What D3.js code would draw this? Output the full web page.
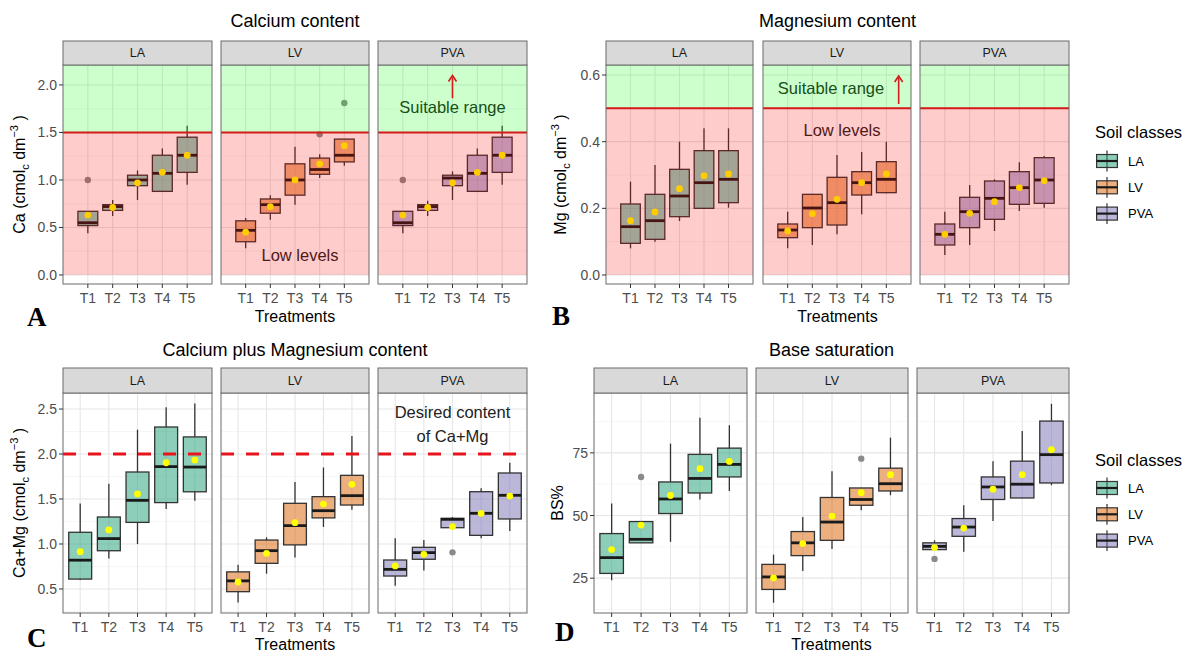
<!DOCTYPE html>
<html>
<head>
<meta charset="utf-8">
<script src="https://cdn.jsdelivr.net/npm/d3@7"></script>
<style>
  body { margin: 0; background: #fff; }
  svg { display: block; font-family: "Liberation Sans", Arial, sans-serif; }
</style>
</head>
<body>
<svg id="chart" width="1189" height="653"></svg>
<script>
const treatments = ["T1", "T2", "T3", "T4", "T5"]
const soils = ["LA", "LV", "PVA"]
const soilColors = ["#1B9E77", "#D95F02", "#7570B3"]

// every row: [lower whisker, Q1, median, Q3, upper whisker, mean], one row per treatment
const caLA = [[0.44, 0.52, 0.55, 0.67, 0.67, 0.63], [0.62, 0.68, 0.72, 0.74, 0.79, 0.71], [0.79, 0.94, 1.00, 1.05, 1.10, 0.97], [0.88, 0.88, 1.07, 1.26, 1.33, 1.08], [0.95, 1.08, 1.26, 1.45, 1.57, 1.26]]
const caLV = [[0.28, 0.35, 0.47, 0.57, 0.60, 0.45], [0.58, 0.65, 0.74, 0.80, 0.84, 0.72], [0.74, 0.84, 1.00, 1.17, 1.35, 1.00], [1.02, 1.06, 1.11, 1.23, 1.27, 1.17], [1.15, 1.19, 1.26, 1.43, 1.43, 1.36]]
const caPVA = [[0.44, 0.52, 0.55, 0.67, 0.67, 0.63], [0.62, 0.68, 0.72, 0.74, 0.78, 0.71], [0.79, 0.94, 1.02, 1.05, 1.09, 0.97], [0.88, 0.88, 1.07, 1.26, 1.33, 1.08], [0.95, 1.08, 1.26, 1.45, 1.57, 1.26]]
const caOutliers = [["LA", "T1", 1.0], ["LV", "T4", 1.48], ["LV", "T5", 1.81], ["PVA", "T1", 1.0]]

const mgLA = [[0.08, 0.095, 0.145, 0.213, 0.28, 0.163], [0.10, 0.107, 0.163, 0.242, 0.33, 0.189], [0.162, 0.175, 0.237, 0.317, 0.40, 0.259], [0.20, 0.20, 0.277, 0.373, 0.44, 0.298], [0.202, 0.217, 0.287, 0.373, 0.44, 0.303]]
const mgLV = [[0.08, 0.112, 0.135, 0.153, 0.19, 0.132], [0.09, 0.142, 0.201, 0.242, 0.242, 0.184], [0.122, 0.15, 0.217, 0.293, 0.36, 0.227], [0.182, 0.24, 0.277, 0.31, 0.369, 0.277], [0.245, 0.247, 0.287, 0.34, 0.40, 0.303]]
const mgPVA = [[0.06, 0.09, 0.122, 0.153, 0.19, 0.122], [0.09, 0.142, 0.19, 0.233, 0.27, 0.185], [0.132, 0.167, 0.23, 0.282, 0.287, 0.22], [0.192, 0.212, 0.262, 0.31, 0.338, 0.262], [0.202, 0.215, 0.285, 0.352, 0.357, 0.283]]
const mgOutliers = []

const camgLA = [[0.60, 0.61, 0.82, 1.13, 1.45, 0.915], [0.84, 0.925, 1.06, 1.30, 1.67, 1.156], [1.00, 1.24, 1.485, 1.80, 2.27, 1.556], [1.39, 1.46, 1.86, 2.30, 2.52, 1.903], [1.48, 1.58, 1.855, 2.19, 2.56, 1.933]]
const camgLV = [[0.35, 0.47, 0.59, 0.69, 0.77, 0.578], [0.67, 0.785, 0.926, 1.044, 1.074, 0.896], [0.85, 0.99, 1.204, 1.452, 1.69, 1.237], [1.19, 1.29, 1.37, 1.526, 1.85, 1.444], [1.38, 1.433, 1.537, 1.763, 2.20, 1.663]]
const camgPVA = [[0.537, 0.644, 0.718, 0.822, 1.063, 0.756], [0.704, 0.83, 0.904, 0.963, 1.044, 0.885], [1.181, 1.181, 1.274, 1.285, 1.30, 1.193], [1.063, 1.096, 1.341, 1.581, 1.619, 1.341], [1.144, 1.278, 1.541, 1.789, 1.903, 1.533]]
const camgOutliers = [["PVA", "T3", 0.907]]

const bsLA = [[24.2, 26.9, 33.2, 42.8, 54.8, 36.4], [39.1, 39.1, 40.5, 47.6, 47.6, 46.2], [39.5, 50.8, 56.6, 63.4, 78.7, 58.0], [56.4, 59.0, 64.8, 74.4, 89.0, 68.7], [59.8, 65.4, 70.4, 76.9, 86.0, 71.6]]
const bsLV = [[15.2, 20.5, 25.5, 30.5, 34.4, 25.1], [27.9, 34.0, 39.1, 43.6, 49.4, 38.8], [36.6, 40.1, 47.4, 57.2, 67.7, 49.8], [52.1, 54.1, 56.4, 61.0, 61.0, 59.1], [58.1, 59.8, 62.7, 68.9, 81.1, 66.3]]
const bsPVA = [[36.4, 36.4, 37.7, 39.1, 40.1, 37.2], [35.5, 41.7, 45.4, 48.8, 54.1, 45.0], [47.8, 56.4, 61.4, 65.4, 71.7, 60.5], [57.0, 57.0, 62.5, 71.7, 83.7, 66.3], [62.1, 63.0, 74.3, 87.7, 94.6, 76.3]]
const bsOutliers = [["LA", "T2", 65.4], ["LV", "T4", 72.7], ["PVA", "T1", 32.7]]

const caTicks = [0, 0.5, 1, 1.5, 2]
const mgTicks = [0, 0.2, 0.4, 0.6]
const camgTicks = [0.5, 1, 1.5, 2, 2.5]
const bsTicks = [25, 50, 75]

const svg = d3.select("#chart")

// draws one row of 3 facets, returns the scales so annotations can use them
function drawPanel(p){
    const y = d3.scaleLinear().domain(p.domain).range([p.plotBottom, p.plotTop])
    const tStep = p.ticks[1] - p.ticks[0]
    const minor = [p.ticks[0] - tStep / 2].concat(p.ticks.map(t => t + tStep / 2))
        .filter(v => v >= p.domain[0] && v <= p.domain[1])
    const xs = []

    soils.forEach((soil, i) => {
        const [x0, x1] = p.facets[i]
        const x = d3.scalePoint().domain(treatments).range([x0, x1]).padding(p.pad)
        xs.push(x)
        const g = svg.append("g")
        const h = p.plotBottom - p.plotTop

        g.append("rect").attr("x", x0).attr("y", p.plotTop).attr("width", x1 - x0).attr("height", h).attr("fill", "#fff")

        //grid
        g.selectAll(".minor").data(minor).join("line")
            .attr("x1", x0).attr("x2", x1).attr("y1", d => y(d)).attr("y2", d => y(d))
            .attr("stroke", "#F2F2F2").attr("stroke-width", 0.7)
        g.selectAll(".major").data(p.ticks).join("line")
            .attr("x1", x0).attr("x2", x1).attr("y1", d => y(d)).attr("y2", d => y(d))
            .attr("stroke", "#E6E6E6").attr("stroke-width", 1.1)
        g.selectAll(".vgrid").data(treatments).join("line")
            .attr("x1", d => x(d)).attr("x2", d => x(d)).attr("y1", p.plotTop).attr("y2", p.plotBottom)
            .attr("stroke", "#E6E6E6").attr("stroke-width", 1.1)

        //boxes
        const bw = x.step() * 0.8
        const rows = p.data[i].map((r, j) => ({t: treatments[j], r: r}))
        const box = g.selectAll(".box").data(rows).join("g")
        box.append("line")
            .attr("x1", d => x(d.t)).attr("x2", d => x(d.t))
            .attr("y1", d => y(d.r[4])).attr("y2", d => y(d.r[3]))
            .attr("stroke", "#333").attr("stroke-width", 1.3)
        box.append("line")
            .attr("x1", d => x(d.t)).attr("x2", d => x(d.t))
            .attr("y1", d => y(d.r[1])).attr("y2", d => y(d.r[0]))
            .attr("stroke", "#333").attr("stroke-width", 1.3)
        box.append("rect")
            .attr("x", d => x(d.t) - bw / 2).attr("width", bw)
            .attr("y", d => y(d.r[3])).attr("height", d => y(d.r[1]) - y(d.r[3]))
            .attr("fill", soilColors[i]).attr("fill-opacity", 0.5)
            .attr("stroke", "#333").attr("stroke-width", 1.3)
        box.append("line")
            .attr("x1", d => x(d.t) - bw / 2).attr("x2", d => x(d.t) + bw / 2)
            .attr("y1", d => y(d.r[2])).attr("y2", d => y(d.r[2]))
            .attr("stroke", "#1a1a1a").attr("stroke-width", 2.8)

        g.selectAll(".out").data(p.outliers.filter(o => o[0] == soil)).join("circle")
            .attr("cx", d => x(d[1])).attr("cy", d => y(d[2])).attr("r", 3.2)
            .attr("fill", "#8a8a8a")
        box.append("circle")
            .attr("cx", d => x(d.t)).attr("cy", d => y(d.r[5])).attr("r", 3.4)
            .attr("fill", "#FFFF00")

        if(p.annotate) p.annotate(g, x, y, i)

        //suitable / low zones drawn over the boxes, like the original
        if(p.threshold !== undefined){
            g.append("rect").attr("x", x0).attr("width", x1 - x0)
                .attr("y", y(p.threshold)).attr("height", y(0) - y(p.threshold))
                .attr("fill", "#FF0000").attr("fill-opacity", 0.2)
            g.append("rect").attr("x", x0).attr("width", x1 - x0)
                .attr("y", p.plotTop).attr("height", y(p.threshold) - p.plotTop)
                .attr("fill", "#00FF00").attr("fill-opacity", 0.2)
            g.append("line").attr("x1", x0).attr("x2", x1)
                .attr("y1", y(p.threshold)).attr("y2", y(p.threshold))
                .attr("stroke", "#D41A1A").attr("stroke-width", 2)
        }
        if(p.dashed !== undefined){
            g.append("line").attr("x1", x0).attr("x2", x1)
                .attr("y1", y(p.dashed)).attr("y2", y(p.dashed))
                .attr("stroke", "#E8141C").attr("stroke-width", 3)
                .attr("stroke-dasharray", "13,12")
        }
        if(p.arrow) p.arrow(g, x, y, i)

        g.append("rect").attr("x", x0).attr("y", p.plotTop).attr("width", x1 - x0).attr("height", h)
            .attr("fill", "none").attr("stroke", "#6b6b6b").attr("stroke-width", 1)

        //strip
        g.append("rect").attr("x", x0).attr("y", p.stripTop).attr("width", x1 - x0).attr("height", p.plotTop - p.stripTop)
            .attr("fill", "#D9D9D9").attr("stroke", "#6b6b6b").attr("stroke-width", 1)
        g.append("text").attr("x", (x0 + x1) / 2).attr("y", (p.stripTop + p.plotTop) / 2)
            .attr("text-anchor", "middle").attr("dominant-baseline", "central")
            .attr("font-size", 12.5).attr("fill", "#1A1A1A").text(soil)

        //x axis
        g.selectAll(".xt").data(treatments).join("line")
            .attr("x1", d => x(d)).attr("x2", d => x(d)).attr("y1", p.plotBottom).attr("y2", p.plotBottom + 4)
            .attr("stroke", "#333")
        g.selectAll(".xl").data(treatments).join("text")
            .attr("x", d => x(d)).attr("y", p.plotBottom + 18.5)
            .attr("text-anchor", "middle").attr("font-size", 14).attr("fill", "#4D4D4D").text(d => d)
    })

    //y axis on the first facet only
    const ax = p.facets[0][0]
    svg.selectAll(null).data(p.ticks).join("line")
        .attr("x1", ax - 4).attr("x2", ax).attr("y1", d => y(d)).attr("y2", d => y(d)).attr("stroke", "#333")
    svg.selectAll(null).data(p.ticks).join("text")
        .attr("x", ax - 6).attr("y", d => y(d)).attr("text-anchor", "end").attr("dominant-baseline", "central")
        .attr("font-size", 14).attr("fill", "#4D4D4D").text(p.fmt)

    const cx = (p.facets[0][0] + p.facets[2][1]) / 2
    svg.append("text").attr("x", cx).attr("y", p.titleY).attr("text-anchor", "middle")
        .attr("font-size", 18).attr("fill", "#000").text(p.title)
    svg.append("text").attr("x", cx).attr("y", p.xTitleY).attr("text-anchor", "middle")
        .attr("font-size", 16).attr("fill", "#000").text("Treatments")
    svg.append("text").attr("x", p.letter[1]).attr("y", p.letter[2])
        .attr("font-family", "Liberation Serif, Times New Roman, serif").attr("font-weight", "bold")
        .attr("font-size", 27).attr("fill", "#000").text(p.letter[0])

    //y title, optionally with cmol_c dm^-3
    const yt = svg.append("text")
        .attr("transform", `translate(${p.yTitleX},${(p.plotTop + p.plotBottom) / 2}) rotate(-90)`)
        .attr("text-anchor", "middle").attr("font-size", 16).attr("fill", "#000")
    if(p.unit){
        yt.append("tspan").text(p.yLabel + " (cmol")
        yt.append("tspan").attr("font-size", 11).attr("dy", 4).text("c")
        yt.append("tspan").attr("dy", -4).text(" dm")
        yt.append("tspan").attr("font-size", 11).attr("dy", -7).text("\u22123")
        yt.append("tspan").attr("dy", 7).text(" )")
    } else {
        yt.text(p.yLabel)
    }
    return {xs: xs, y: y}
}

function drawLegend(x, titleY, firstKeyY){
    svg.append("text").attr("x", x).attr("y", titleY).attr("font-size", 16.5).attr("fill", "#000").text("Soil classes")
    const key = svg.selectAll(null).data(soils).join("g")
        .attr("transform", (d, i) => `translate(${x - 1},${firstKeyY + i * 26.3 - 13})`)
    key.append("line").attr("x1", 13).attr("x2", 13).attr("y1", 2.6).attr("y2", 23.4).attr("stroke", "#333").attr("stroke-width", 1.2)
    key.append("rect").attr("x", 2.6).attr("y", 6.5).attr("width", 20.8).attr("height", 13)
        .attr("fill", (d, i) => soilColors[i]).attr("fill-opacity", 0.5).attr("stroke", "#333").attr("stroke-width", 1.2)
    key.append("line").attr("x1", 2.6).attr("x2", 23.4).attr("y1", 13).attr("y2", 13).attr("stroke", "#1a1a1a").attr("stroke-width", 2.2)
    key.append("text").attr("x", 34).attr("y", 13).attr("dominant-baseline", "central")
        .attr("font-size", 13).attr("fill", "#000").text(d => d)
}

function upArrow(g, ax, yFrom, yTo){
    g.append("line").attr("x1", ax).attr("x2", ax).attr("y1", yFrom).attr("y2", yTo + 2)
        .attr("stroke", "#D41A1A").attr("stroke-width", 1.6)
    g.append("path").attr("d", `M${ax - 4},${yTo + 6}L${ax},${yTo}L${ax + 4},${yTo + 6}`)
        .attr("fill", "none").attr("stroke", "#D41A1A").attr("stroke-width", 1.6)
}

const topFacetsLeft = [[63, 212], [221, 369], [378, 527]]

drawPanel({
    title: "Calcium content", titleY: 27, xTitleY: 322, letter: ["A", 27, 326],
    facets: topFacetsLeft, stripTop: 41, plotTop: 65, plotBottom: 284, pad: 1,
    domain: [-0.095, 2.21], ticks: caTicks, fmt: d3.format(".1f"),
    yLabel: "Ca", unit: true, yTitleX: 25,
    data: [caLA, caLV, caPVA], outliers: caOutliers, threshold: 1.5,
    annotate: (g, x, y, i) => {
        if(i == 1) g.append("text").attr("x", x("T3") + 5).attr("y", y(0.15)).attr("text-anchor", "middle")
            .attr("font-size", 16.5).attr("fill", "#222").text("Low levels")
        if(i == 2) g.append("text").attr("x", x("T3")).attr("y", y(1.70)).attr("text-anchor", "middle")
            .attr("font-size", 16.5).attr("fill", "#222").text("Suitable range")
    },
    arrow: (g, x, y, i) => { if(i == 2) upArrow(g, x("T3"), y(1.86), y(2.10)) }
})

drawPanel({
    title: "Magnesium content", titleY: 27, xTitleY: 322, letter: ["B", 552, 325],
    facets: [[606, 753], [763, 911], [920, 1069]], stripTop: 41, plotTop: 65, plotBottom: 284, pad: 1,
    domain: [-0.027, 0.63], ticks: mgTicks, fmt: d3.format(".1f"),
    yLabel: "Mg", unit: true, yTitleX: 566,
    data: [mgLA, mgLV, mgPVA], outliers: mgOutliers, threshold: 0.5,
    annotate: (g, x, y, i) => {
        if(i == 1){
            g.append("text").attr("x", x("T3") - 6).attr("y", y(0.543)).attr("text-anchor", "middle")
                .attr("font-size", 16.5).attr("fill", "#222").text("Suitable range")
            g.append("text").attr("x", x("T3") + 5).attr("y", y(0.417)).attr("text-anchor", "middle")
                .attr("font-size", 16.5).attr("fill", "#222").text("Low levels")
        }
    },
    arrow: (g, x, y, i) => { if(i == 1) upArrow(g, x("T5") + x.step() / 2, y(0.513), y(0.597)) }
})

drawPanel({
    title: "Calcium plus Magnesium content", titleY: 356, xTitleY: 650, letter: ["C", 27, 647],
    facets: topFacetsLeft, stripTop: 368, plotTop: 393, plotBottom: 613, pad: 0.6,
    domain: [0.233, 2.678], ticks: camgTicks, fmt: d3.format(".1f"),
    yLabel: "Ca+Mg", unit: true, yTitleX: 25,
    data: [camgLA, camgLV, camgPVA], outliers: camgOutliers, dashed: 2.0,
    annotate: (g, x, y, i) => {
        if(i == 2){
            g.append("text").attr("x", x("T3")).attr("y", y(2.40)).attr("text-anchor", "middle")
                .attr("font-size", 16.5).attr("fill", "#222").text("Desired content")
            g.append("text").attr("x", x("T3")).attr("y", y(2.135)).attr("text-anchor", "middle")
                .attr("font-size", 16.5).attr("fill", "#222").text("of Ca+Mg")
        }
    }
})

drawPanel({
    title: "Base saturation", titleY: 356, xTitleY: 650, letter: ["D", 555, 641],
    facets: [[594, 747], [756, 908], [917, 1069]], stripTop: 368, plotTop: 393, plotBottom: 613, pad: 0.6,
    domain: [11.1, 98.9], ticks: bsTicks, fmt: d3.format("d"),
    yLabel: "BS%", unit: false, yTitleX: 563,
    data: [bsLA, bsLV, bsPVA], outliers: bsOutliers
})

drawLegend(1095, 138, 161)
drawLegend(1095, 466, 488)
</script>
</body>
</html>
